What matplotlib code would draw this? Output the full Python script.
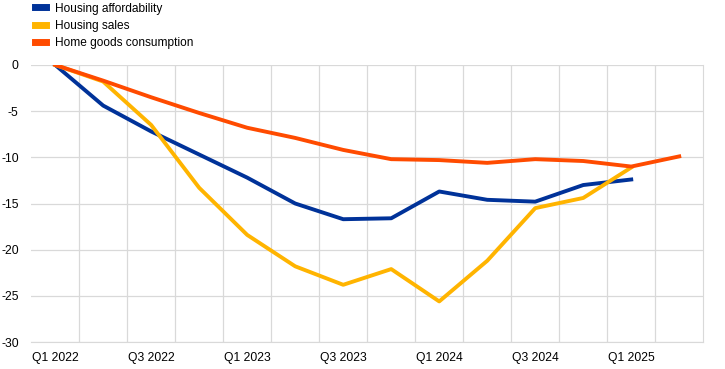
import matplotlib
matplotlib.use("Agg")
import matplotlib.pyplot as plt
from matplotlib.lines import Line2D

plt.rcParams['font.family'] = ['Liberation Sans', 'DejaVu Sans']
plt.rcParams['axes.unicode_minus'] = False

quarters = ["Q1 2022", "Q2 2022", "Q3 2022", "Q4 2022",
            "Q1 2023", "Q2 2023", "Q3 2023", "Q4 2023",
            "Q1 2024", "Q2 2024", "Q3 2024", "Q4 2024",
            "Q1 2025", "Q2 2025"]

affordability = [0, -4.4, -7.2, -9.7, -12.2, -15.0, -16.7, -16.6,
                 -13.7, -14.6, -14.8, -13.0, -12.4]
sales = [0, -1.8, -6.5, -13.3, -18.4, -21.8, -23.8, -22.1,
         -25.6, -21.2, -15.5, -14.4, -11.1]
home_goods = [0, -1.7, -3.5, -5.2, -6.8, -7.9, -9.2, -10.2,
              -10.3, -10.6, -10.2, -10.4, -11.0, -9.9]

names = ["Housing affordability", "Housing sales", "Home goods consumption"]
colors = ["#003299", "#FFB400", "#FF4B00"]

fig = plt.figure(figsize=(7.25, 3.69), dpi=100)
ax = fig.add_axes([0.043, 0.073, 0.927, 0.751])

x = range(len(quarters))
for vals, c in zip([affordability, sales, home_goods], colors):
    ax.plot(list(x)[:len(vals)], vals, color=c, lw=2.8, solid_joinstyle='round')

ax.set_xlim(-0.5, len(quarters) - 0.5)
ax.set_ylim(-30, 0)
ax.set_yticks(range(-30, 1, 5))
ax.set_xticks(range(0, len(quarters), 2))
ax.set_xticklabels(quarters[::2])
ax.set_xticks([i + 0.5 for i in range(len(quarters) - 1)], minor=True)

ax.grid(axis='y', color='#d9d9d9', lw=0.9)
ax.grid(axis='x', which='minor', color='#d9d9d9', lw=0.9)
ax.set_axisbelow(True)
for s in ['top', 'left']:
    ax.spines[s].set_visible(False)
ax.spines['right'].set_color('#d9d9d9')
ax.spines['bottom'].set_color('#d9d9d9')
ax.tick_params(which='both', length=0, labelsize=8.7)
ax.tick_params(axis='x', pad=7)
ax.tick_params(axis='y', pad=9)

handles = [Line2D([], [], color=c, lw=5) for c in colors]
fig.legend(handles, names, loc='upper left', bbox_to_anchor=(0.033, 1.022),
           frameon=False, fontsize=8.6, handlelength=0.95, handletextpad=0.75,
           labelspacing=0.45)

fig.savefig("out.png", dpi=100)
